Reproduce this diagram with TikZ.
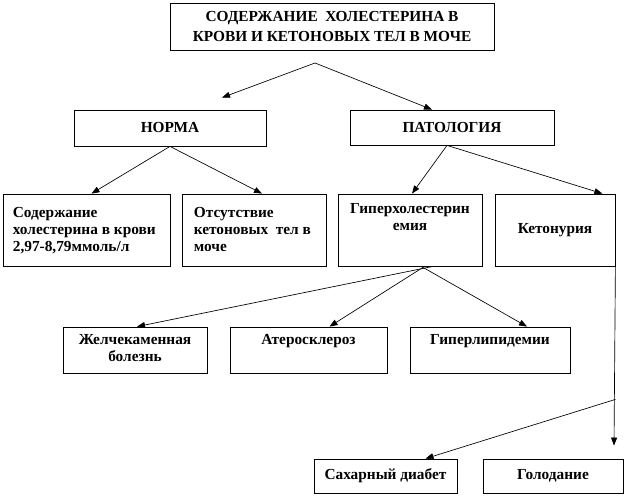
\documentclass[tikz,border=0pt]{standalone}
\usepackage{fontspec}
\setmainfont{Liberation Serif}
\usetikzlibrary{positioning,arrows.meta,calc}

\begin{document}
\begin{tikzpicture}[x=0.75pt, y=-0.75pt,
    every node/.style={font=\bfseries\fontsize{11.5}{12.75}\selectfont},
    box/.style={draw, line width=0.6pt, inner sep=0pt},
    txt/.style={inner sep=0pt},
    arr/.style={-{Triangle[length=6pt,width=4.5pt]}, line width=0.5pt}]
    \useasboundingbox (0,0) rectangle (630,498);

    % boxes
    \node[box, minimum width=243pt, minimum height=35.25pt, align=center,
          font=\bfseries\fontsize{11.5}{15}\selectfont] (root) at (332,26.5)
          {СОДЕРЖАНИЕ \ ХОЛЕСТЕРИНА В\\КРОВИ И КЕТОНОВЫХ ТЕЛ В МОЧЕ};
    \node[box, minimum width=144pt, minimum height=27pt] (norma) at (170,128) {НОРМА};
    \node[box, minimum width=153pt, minimum height=26.25pt] (patol) at (452,127.5) {ПАТОЛОГИЯ};

    \node[box, minimum width=125.25pt, minimum height=54pt] (sod) at (86.5,230) {};
    \node[box, minimum width=108pt, minimum height=54pt] (otsut) at (254,230) {};
    \node[box, minimum width=108pt, minimum height=54pt] (hyper) at (410,230) {};
    \node[box, minimum width=90pt, minimum height=54pt] (keton) at (555,230) {Кетонурия};

    \node[box, minimum width=108pt, minimum height=34.5pt] (zhel) at (135,350) {};
    \node[box, minimum width=117.75pt, minimum height=34.5pt] (ather) at (308.5,350) {};
    \node[box, minimum width=120pt, minimum height=34.5pt] (hlip) at (490,350) {};

    \node[box, minimum width=107.25pt, minimum height=25.5pt] (sakh) at (385.5,476) {Сахарный диабет};
    \node[box, minimum width=105pt, minimum height=25.5pt] (golod) at (553,476) {Голодание};

    % texts at the top of the boxes
    \node[txt, anchor=north west, align=left] (sodtxt) at ($(sod.north west)+(10,13)$)
          {Содержание\\холестерина в крови\\2,97-8,79ммоль/л};
    \node[txt, anchor=north west, align=left] (otsuttxt) at ($(otsut.north west)+(12,13)$)
          {Отсутствие\\кетоновых \ тел в\\моче};
    \node[txt, below=7.5pt of hyper.north, align=center] (hypertxt) {Гиперхолестерин\\емия};
    \node[txt, below=6pt of zhel.north, align=center] (zheltxt) {Желчекаменная\\болезнь};
    \node[txt, below=6pt of ather.north] (athertxt) {Атеросклероз};
    \node[txt, below=6pt of hlip.north] (hliptxt) {Гиперлипидемии};

    % connectors
    \coordinate (split) at (315,63);
    \draw[arr] (split) -- ($(norma.north)+(52,-12)$);
    \draw[arr] (split) -- ($(patol.north)+(-20,0)$);
    \draw[arr] (norma.south) -- ($(sod.north)+(5,0)$);
    \draw[arr] (norma.south) -- ($(otsut.north)+(8,0)$);
    \coordinate (patfork) at ($(patol.south)+(-5,0)$);
    \draw[arr] (patfork) -- ($(hyper.north)+(2,0)$);
    \draw[arr] (patfork) -- ($(keton.north east)+(-13,0)$);
    \coordinate (hypfork) at ($(hyper.south)+(13,1)$);
    \draw[arr] ($(hyper.south)+(23,0)$) -- ($(zhel.north)+(2,0)$);
    \draw[arr] (hypfork) -- ($(ather.north)+(21,0)$);
    \draw[arr] (hypfork) -- ($(hlip.north)+(37,0)$);
    \coordinate (ketend) at ($(golod.north)+(61,-13)$);
    \coordinate (ketfork) at ($(keton.south east)+(0,133)$);
    \draw[arr] (keton.south east) -- (ketend);
    \draw[arr] (ketfork) -- ($(sakh.north)+(40,0)$);
\end{tikzpicture}
\end{document}
